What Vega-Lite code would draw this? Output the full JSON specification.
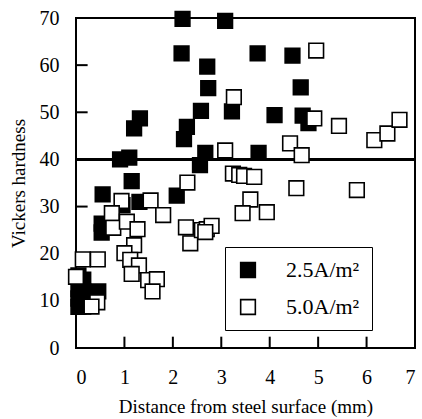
{
  "$schema": "https://vega.github.io/schema/vega-lite/v6.json",
  "width": 339,
  "height": 330,
  "autosize": "none",
  "padding": {"left": 76, "top": 18, "right": 7, "bottom": 71},
  "background": "white",
  "config": {
    "view": {"stroke": "black", "strokeWidth": 2},
    "font": "Liberation Serif",
    "axis": {"grid": false, "domain": false, "ticks": false, "labelColor": "black", "titleColor": "black", "labelFont": "Liberation Serif", "titleFont": "Liberation Serif", "labelFontSize": 20, "titleFontSize": 19, "titleFontWeight": "normal"},
    "legend": {"labelFont": "Liberation Serif"}
  },
  "datasets": {
    "pts": [
      {"d": 2.2, "hv": 69.8, "s": "2.5A/m²"},
      {"d": 3.08, "hv": 69.4, "s": "2.5A/m²"},
      {"d": 2.18, "hv": 62.5, "s": "2.5A/m²"},
      {"d": 2.71, "hv": 59.7, "s": "2.5A/m²"},
      {"d": 2.73, "hv": 55.1, "s": "2.5A/m²"},
      {"d": 2.58, "hv": 50.3, "s": "2.5A/m²"},
      {"d": 3.22, "hv": 50.2, "s": "2.5A/m²"},
      {"d": 1.32, "hv": 48.7, "s": "2.5A/m²"},
      {"d": 1.2, "hv": 46.6, "s": "2.5A/m²"},
      {"d": 2.29, "hv": 46.9, "s": "2.5A/m²"},
      {"d": 2.23, "hv": 44.3, "s": "2.5A/m²"},
      {"d": 0.91, "hv": 40.0, "s": "2.5A/m²"},
      {"d": 1.1, "hv": 40.4, "s": "2.5A/m²"},
      {"d": 2.67, "hv": 41.4, "s": "2.5A/m²"},
      {"d": 2.56, "hv": 38.8, "s": "2.5A/m²"},
      {"d": 1.15, "hv": 35.4, "s": "2.5A/m²"},
      {"d": 3.75, "hv": 62.5, "s": "2.5A/m²"},
      {"d": 4.47, "hv": 62.0, "s": "2.5A/m²"},
      {"d": 4.64, "hv": 55.3, "s": "2.5A/m²"},
      {"d": 4.1, "hv": 49.4, "s": "2.5A/m²"},
      {"d": 4.68, "hv": 49.3, "s": "2.5A/m²"},
      {"d": 4.8, "hv": 47.7, "s": "2.5A/m²"},
      {"d": 3.77, "hv": 41.4, "s": "2.5A/m²"},
      {"d": 2.08, "hv": 32.3, "s": "2.5A/m²"},
      {"d": 0.55, "hv": 32.6, "s": "2.5A/m²"},
      {"d": 0.96, "hv": 30.3, "s": "2.5A/m²"},
      {"d": 1.31, "hv": 31.0, "s": "2.5A/m²"},
      {"d": 0.53, "hv": 26.4, "s": "2.5A/m²"},
      {"d": 0.53, "hv": 24.5, "s": "2.5A/m²"},
      {"d": 0.46, "hv": 12.0, "s": "2.5A/m²"},
      {"d": 0.05, "hv": 15.4, "s": "2.5A/m²"},
      {"d": 0.15, "hv": 14.5, "s": "2.5A/m²"},
      {"d": 0.05, "hv": 12.5, "s": "2.5A/m²"},
      {"d": 0.15, "hv": 12.0, "s": "2.5A/m²"},
      {"d": 0.05, "hv": 10.5, "s": "2.5A/m²"},
      {"d": 0.15, "hv": 10.0, "s": "2.5A/m²"},
      {"d": 0.05, "hv": 8.7, "s": "2.5A/m²"},
      {"d": 0.15, "hv": 8.8, "s": "2.5A/m²"},
      {"d": 4.96, "hv": 63.1, "s": "5.0A/m²"},
      {"d": 3.26, "hv": 53.2, "s": "5.0A/m²"},
      {"d": 4.92, "hv": 48.7, "s": "5.0A/m²"},
      {"d": 5.43, "hv": 47.1, "s": "5.0A/m²"},
      {"d": 6.16, "hv": 44.1, "s": "5.0A/m²"},
      {"d": 6.43, "hv": 45.5, "s": "5.0A/m²"},
      {"d": 6.68, "hv": 48.4, "s": "5.0A/m²"},
      {"d": 4.42, "hv": 43.4, "s": "5.0A/m²"},
      {"d": 4.66, "hv": 40.9, "s": "5.0A/m²"},
      {"d": 3.08, "hv": 41.9, "s": "5.0A/m²"},
      {"d": 3.24, "hv": 37.0, "s": "5.0A/m²"},
      {"d": 3.37, "hv": 36.7, "s": "5.0A/m²"},
      {"d": 3.47, "hv": 36.5, "s": "5.0A/m²"},
      {"d": 3.68, "hv": 36.3, "s": "5.0A/m²"},
      {"d": 2.3, "hv": 35.1, "s": "5.0A/m²"},
      {"d": 3.6, "hv": 31.5, "s": "5.0A/m²"},
      {"d": 4.55, "hv": 33.9, "s": "5.0A/m²"},
      {"d": 5.8, "hv": 33.5, "s": "5.0A/m²"},
      {"d": 3.44, "hv": 28.6, "s": "5.0A/m²"},
      {"d": 3.94, "hv": 28.8, "s": "5.0A/m²"},
      {"d": 0.94, "hv": 31.2, "s": "5.0A/m²"},
      {"d": 1.54, "hv": 31.3, "s": "5.0A/m²"},
      {"d": 1.8, "hv": 28.2, "s": "5.0A/m²"},
      {"d": 0.74, "hv": 28.6, "s": "5.0A/m²"},
      {"d": 0.77, "hv": 25.5, "s": "5.0A/m²"},
      {"d": 1.05, "hv": 26.8, "s": "5.0A/m²"},
      {"d": 1.27, "hv": 25.2, "s": "5.0A/m²"},
      {"d": 2.27, "hv": 25.6, "s": "5.0A/m²"},
      {"d": 2.36, "hv": 22.2, "s": "5.0A/m²"},
      {"d": 2.6, "hv": 25.0, "s": "5.0A/m²"},
      {"d": 2.7, "hv": 25.2, "s": "5.0A/m²"},
      {"d": 2.8, "hv": 25.9, "s": "5.0A/m²"},
      {"d": 2.67, "hv": 24.6, "s": "5.0A/m²"},
      {"d": 1.2, "hv": 21.8, "s": "5.0A/m²"},
      {"d": 1.0, "hv": 20.1, "s": "5.0A/m²"},
      {"d": 1.12, "hv": 18.7, "s": "5.0A/m²"},
      {"d": 1.3, "hv": 17.5, "s": "5.0A/m²"},
      {"d": 1.15, "hv": 15.7, "s": "5.0A/m²"},
      {"d": 1.49, "hv": 14.4, "s": "5.0A/m²"},
      {"d": 1.67, "hv": 14.6, "s": "5.0A/m²"},
      {"d": 1.58, "hv": 12.0, "s": "5.0A/m²"},
      {"d": 0.45, "hv": 18.8, "s": "5.0A/m²"},
      {"d": 0.14, "hv": 18.8, "s": "5.0A/m²"},
      {"d": 0.0, "hv": 15.1, "s": "5.0A/m²"},
      {"d": 0.44, "hv": 9.7, "s": "5.0A/m²"},
      {"d": 0.32, "hv": 8.8, "s": "5.0A/m²"}
    ],
    "ref": [{"hv": 40}],
    "xticks": [{"t": 1, "a": 0, "b": 2.4}, {"t": 2, "a": 0, "b": 2.4}, {"t": 3, "a": 0, "b": 2.4}, {"t": 4, "a": 0, "b": 2.4}, {"t": 5, "a": 0, "b": 2.4}, {"t": 6, "a": 0, "b": 2.4}],
    "yticks": [{"t": 10, "a": 0, "b": 0.24}, {"t": 20, "a": 0, "b": 0.24}, {"t": 30, "a": 0, "b": 0.24}, {"t": 40, "a": 0, "b": 0.24}, {"t": 50, "a": 0, "b": 0.24}, {"t": 60, "a": 0, "b": 0.24}]
  },
  "layer": [
    {
      "data": {"name": "xticks"},
      "mark": {"type": "rule", "color": "black", "strokeWidth": 2},
      "encoding": {
        "x": {"field": "t", "type": "quantitative", "scale": {"domain": [0, 7], "nice": false}},
        "y": {"field": "a", "type": "quantitative", "scale": {"domain": [0, 70], "nice": false}},
        "y2": {"field": "b"}
      }
    },
    {
      "data": {"name": "yticks"},
      "mark": {"type": "rule", "color": "black", "strokeWidth": 2},
      "encoding": {
        "y": {"field": "t", "type": "quantitative"},
        "x": {"field": "a", "type": "quantitative"},
        "x2": {"field": "b"}
      }
    },
    {
      "data": {"name": "ref"},
      "mark": {"type": "rule", "color": "black", "strokeWidth": 3},
      "encoding": {"y": {"field": "hv", "type": "quantitative"}}
    },
    {
      "data": {"name": "pts"},
      "mark": {"type": "point", "shape": "square", "size": 215, "stroke": "black", "strokeWidth": 1.6, "filled": true, "opacity": 1},
      "encoding": {
        "x": {"field": "d", "type": "quantitative", "axis": {"values": [0,1,2,3,4,5,6,7], "labelPadding": 19, "labelFont": "Liberation Serif", "labelFontSize": 20, "titleFont": "Liberation Serif", "title": "Distance from steel surface (mm)", "titlePadding": 10}},
        "y": {"field": "hv", "type": "quantitative", "axis": {"values": [0,10,20,30,40,50,60,70], "labelPadding": 17, "labelFont": "Liberation Serif", "labelFontSize": 20, "titleFont": "Liberation Serif", "title": "Vickers hardness", "titlePadding": 11}},
        "fill": {"field": "s", "type": "nominal", "scale": {"domain": ["2.5A/m²", "5.0A/m²"], "range": ["black", "white"]},
          "legend": {"title": null, "orient": "none", "legendX": 149, "legendY": 229, "symbolType": "square", "symbolSize": 215, "symbolStrokeColor": "black", "symbolStrokeWidth": 1.6, "labelFontSize": 22, "labelFont": "Liberation Serif", "labelColor": "black", "strokeColor": "black", "padding": 12, "rowPadding": 15, "labelOffset": 27, "fillColor": "white"}}
      }
    }
  ]
}
